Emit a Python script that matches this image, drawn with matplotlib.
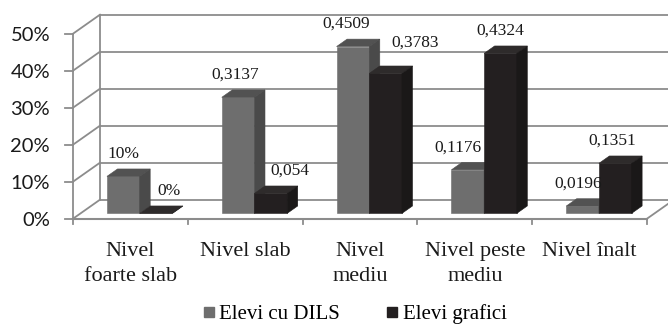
import matplotlib.pyplot as plt
from matplotlib.lines import Line2D

categories = ['Nivel\nfoarte slab', 'Nivel slab', 'Nivel\nmediu', 'Nivel peste\nmediu', 'Nivel înalt']
series_names = ['Elevi cu DILS', 'Elevi grafici']
dils = [0.10, 0.3137, 0.4509, 0.1176, 0.0196]
grafici = [0.0, 0.054, 0.3783, 0.4324, 0.1351]
yticks = [0, 10, 20, 30, 40, 50]

# label nudges (points) for the few labels that excel shifted aside
nudge_dils = [(0, 0), (-2, 0), (-5, 0), (-7, 0), (-3, 0)]
nudge_graf = [(9, 0), (14, 0), (21, 6), (0, 0), (-2, 0)]

# fake 3d geometry in data units (x = category units, y = percent)
DX, DY = 0.235, 5.14      # depth of the floor / walls
F0, F1 = 0.28, 0.67       # depth range taken by the bars
W = 0.285                 # bar width
X0 = 0.23                 # gray bar start inside each category

face = {'dils': ('#6e6e6e', '#525252', '#4a4a4a'),
        'graf': ('#231f20', '#2e2b2b', '#1a1818')}
grid_c = '#8c8c8c'


def fmt(v, first):
    if first:
        return f'{v:.0%}'
    return f'{v:g}'.replace('.', ',')


def bar3d(ax, x, h, cols):
    ox, oy = DX * F0, DY * F0
    bx, by = DX * (F1 - F0), DY * (F1 - F0)
    fr, tp, sd = cols
    ax.bar(x + ox, h, width=W, bottom=oy, align='edge', color=fr, lw=0.4, edgecolor=fr, zorder=3)
    ax.fill([x + ox, x + ox + W, x + ox + W + bx, x + ox + bx],
            [oy + h, oy + h, oy + h + by, oy + h + by], color=tp, lw=0.4, zorder=3)
    ax.fill([x + ox + W, x + ox + W + bx, x + ox + W + bx, x + ox + W],
            [oy, oy + by, oy + h + by, oy + h], color=sd, lw=0.4, zorder=3)


fig = plt.figure(figsize=(6.68, 3.24), dpi=100)
ax = fig.add_axes([0, 0, 1, 1])
ax.set_xlim(-73 / 114.8, 595 / 114.8)
ax.set_ylim((218.7 - 324) / 3.7, 218.7 / 3.7)
ax.axis('off')

n = len(categories)
# walls and gridlines
for t in yticks:
    ax.plot([0, DX], [t, t + DY], color=grid_c, lw=1.3, zorder=1)
    ax.plot([DX, n + DX + 1], [t + DY, t + DY], color=grid_c, lw=1.3, zorder=1)
    ax.plot([-0.07, 0], [t, t], color=grid_c, lw=1.3, zorder=1)
    ax.text(-0.2, t - 0.4, f'{t}%', ha='right', va='center', fontsize=14.5,
            family='Lato', color='#1a1a1a')
ax.plot([0, 0], [0, yticks[-1]], color=grid_c, lw=1.3, zorder=1)
ax.plot([DX, DX], [DY, yticks[-1] + DY], color=grid_c, lw=1.3, zorder=1)
ax.plot([0, n], [0, 0], color=grid_c, lw=1.5, zorder=4)
ax.plot([n, n + DX], [0, DY], color=grid_c, lw=1.3, zorder=1)
for i in range(n + 1):
    ax.plot([i, i], [0, -1.5], color=grid_c, lw=1.3, zorder=4)

serif = 'Liberation Serif'
for i in range(n):
    bar3d(ax, i + X0, dils[i] * 100, face['dils'])
    bar3d(ax, i + X0 + W, grafici[i] * 100, face['graf'])
    ly = DY * F0 + 5.0
    ax.annotate(fmt(dils[i], i == 0), (i + X0 + W / 2 + DX * F0, dils[i] * 100 + ly),
                xytext=nudge_dils[i], textcoords='offset points',
                ha='center', va='baseline', fontsize=12.5, family=serif, color='#1a1a1a', zorder=5)
    ax.annotate(fmt(grafici[i], i == 0), (i + X0 + 1.5 * W + DX * F0, grafici[i] * 100 + ly),
                xytext=nudge_graf[i], textcoords='offset points',
                ha='center', va='baseline', fontsize=12.5, family=serif, color='#1a1a1a', zorder=5)
    ax.text(i + 0.5, -6.3, categories[i], ha='center', va='top', fontsize=16,
            family=serif, color='#1a1a1a', linespacing=1.45)

handles = [Line2D([], [], ls='none', marker='s', ms=6.5, color=face['dils'][0]),
           Line2D([], [], ls='none', marker='s', ms=6.5, color=face['graf'][0])]
fig.legend(handles, series_names, loc='lower center', bbox_to_anchor=(0.531, -0.058), ncol=2,
           frameon=False, handlelength=0.6, handletextpad=0.2, columnspacing=2.2,
           prop={'family': serif, 'size': 15})

fig.savefig('out.png', dpi=100)
